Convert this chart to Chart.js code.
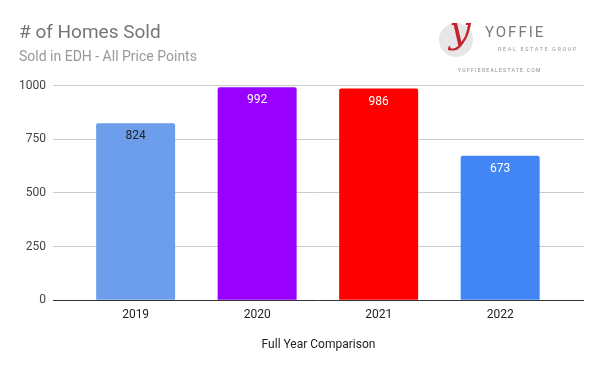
<!DOCTYPE html>
<html>
<head>
<meta charset="utf-8">
<script src="https://cdn.jsdelivr.net/npm/chart.js@4.4.1/dist/chart.umd.min.js"></script>
<style>
  html, body { margin: 0; padding: 0; background: #fff; }
  #wrap { width: 600px; height: 371px; position: relative; }
</style>
</head>
<body>
<div id="wrap"><canvas id="c" width="600" height="371"></canvas></div>
<script>
const years = ['2019', '2020', '2021', '2022'];
const homesSold = [824, 992, 986, 673];
const barColors = ['#6d9eeb', '#9900ff', '#ff0000', '#4285f4'];
const labelColors = ['#222222', '#ffffff', '#ffffff', '#ffffff'];
const yTicks = [0, 250, 500, 750, 1000];
const titleText = '# of Homes Sold';
const subtitleText = 'Sold in EDH - All Price Points';
const xAxisTitle = 'Full Year Comparison';

const FONT = 'Roboto, "Liberation Sans", Arial, sans-serif';

const valueLabels = {
  id: 'valueLabels',
  afterDatasetsDraw(chart) {
    const ctx = chart.ctx;
    const meta = chart.getDatasetMeta(0);
    ctx.save();
    ctx.font = '12px ' + FONT;
    ctx.textAlign = 'center';
    ctx.textBaseline = 'middle';
    meta.data.forEach((bar, i) => {
      ctx.fillStyle = labelColors[i];
      ctx.fillText(String(homesSold[i]), bar.x, bar.y + 13);
    });
    ctx.restore();
  }
};

const logo = {
  id: 'logo',
  afterDraw(chart) {
    const ctx = chart.ctx;
    ctx.save();
    ctx.fillStyle = '#e6e6e8';
    ctx.beginPath();
    ctx.arc(456, 40, 17, 0, Math.PI * 2);
    ctx.fill();
    ctx.fillStyle = '#c4232b';
    ctx.font = 'italic 38px "DejaVu Serif", serif';
    ctx.textAlign = 'center';
    ctx.textBaseline = 'alphabetic';
    ctx.fillText('y', 460, 42);
    ctx.fillStyle = '#7a7a7a';
    ctx.font = '15px ' + FONT;
    ctx.textAlign = 'left';
    ctx.letterSpacing = '2px';
    ctx.fillText('YOFFIE', 485, 37);
    ctx.font = '5.5px ' + FONT;
    ctx.letterSpacing = '1.6px';
    ctx.fillStyle = '#999';
    ctx.fillText('REAL ESTATE GROUP', 498, 51);
    ctx.font = '5px ' + FONT;
    ctx.letterSpacing = '1.3px';
    ctx.fillStyle = '#888';
    ctx.fillText('YOFFIEREALESTATE.COM', 458, 72);
    ctx.restore();
  }
};

const whiteBg = {
  id: 'whiteBg',
  beforeDraw(chart) {
    const ctx = chart.ctx;
    ctx.save();
    ctx.fillStyle = '#fff';
    ctx.fillRect(0, 0, chart.width, chart.height);
    ctx.restore();
  }
};

new Chart(document.getElementById('c'), {
  type: 'bar',
  data: {
    labels: years,
    datasets: [{
      data: homesSold.map((v, i) => ({ x: i, y: v })),
      backgroundColor: barColors,
      borderRadius: { topLeft: 2, topRight: 2 },
      borderSkipped: 'bottom',
      categoryPercentage: 1,
      barPercentage: 0.65
    }]
  },
  options: {
    responsive: false,
    animation: false,
    layout: { padding: { left: 19, right: 16, top: 0, bottom: 0 } },
    plugins: {
      legend: { display: false },
      tooltip: { enabled: false },
      title: {
        display: true,
        text: titleText,
        align: 'start',
        color: '#757575',
        font: { family: FONT, size: 19, weight: 'normal' },
        padding: { top: 22, bottom: 0 }
      },
      subtitle: {
        display: true,
        text: subtitleText,
        align: 'start',
        color: '#999999',
        font: { family: FONT, size: 14, weight: 'normal' },
        padding: { top: 4, bottom: 20 }
      }
    },
    scales: {
      x: {
        type: 'linear',
        min: -0.68,
        max: 3.69,
        offset: false,
        grid: { display: false, drawTicks: false },
        border: { display: false },
        afterBuildTicks(scale) {
          scale.ticks = years.map((_, i) => ({ value: i }));
        },
        ticks: {
          padding: 8,
          color: '#222',
          font: { family: FONT, size: 12 },
          autoSkip: false,
          maxRotation: 0,
          callback: (v) => years[v]
        },
        title: {
          display: true,
          text: xAxisTitle,
          color: '#222',
          font: { family: FONT, size: 12 },
          padding: { top: 7, bottom: 19 }
        }
      },
      y: {
        min: 0,
        max: 1000,
        afterBuildTicks(scale) {
          scale.ticks = yTicks.map(v => ({ value: v }));
        },
        afterFit(scale) { scale.width = 34; },
        grid: {
          drawTicks: false,
          color: (c) => (c.tick && c.tick.value === 0) ? '#333333' : '#cccccc',
          lineWidth: 1
        },
        border: { display: false },
        ticks: {
          padding: 7,
          color: '#444',
          font: { family: FONT, size: 12 },
          callback: (v) => String(v)
        }
      }
    }
  },
  plugins: [whiteBg, valueLabels, logo]
});
</script>
</body>
</html>
